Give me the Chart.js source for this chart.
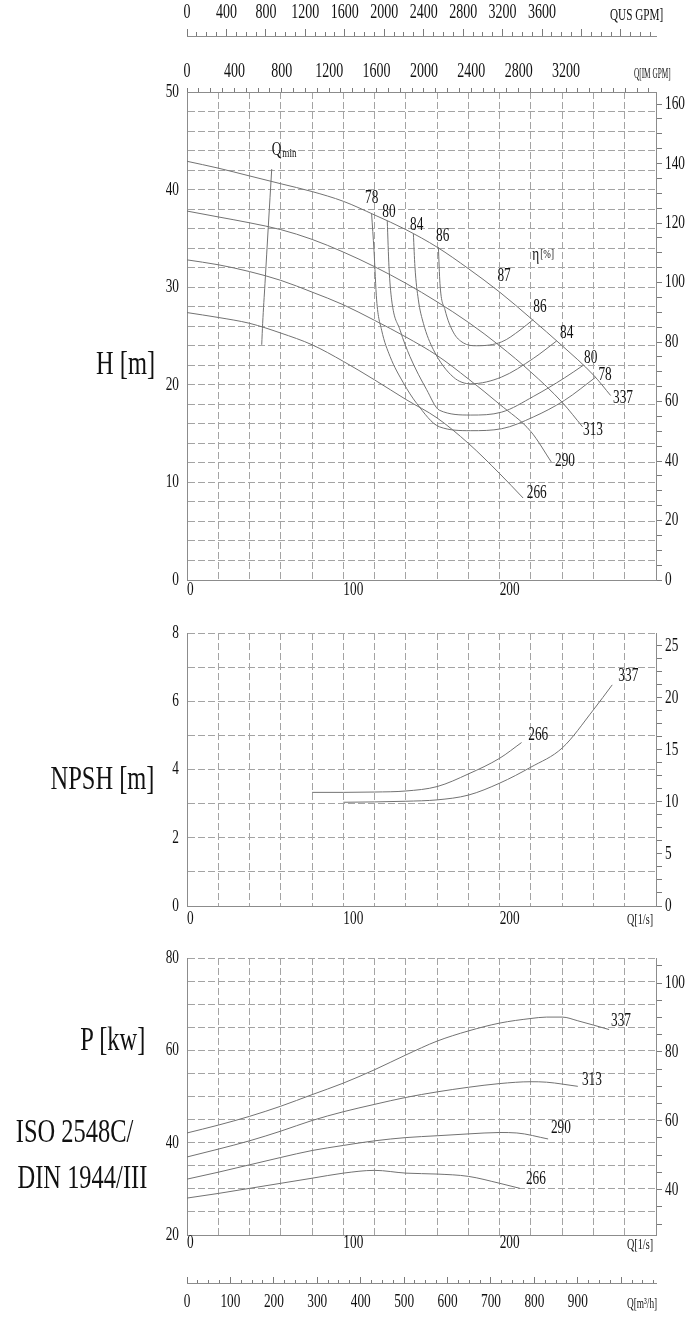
<!DOCTYPE html>
<html>
<head>
<meta charset="utf-8">
<script src="https://cdn.jsdelivr.net/npm/chart.js@4/dist/chart.umd.min.js"></script>
<style>
html, body { margin: 0; padding: 0; background: #fff; }
#page { position: relative; width: 696px; height: 1321px; overflow: hidden; font-family: "Liberation Serif", serif; color: #111; }
canvas { position: absolute; left: 0; }
.t { position: absolute; white-space: nowrap; }
.big { font-size: 34px; line-height: 34px; transform-origin: 100% 50%; transform: scaleX(0.72); }
.unit { font-size: 15px; line-height: 15px; transform-origin: 0 50%; transform: scaleX(0.68); }
</style>
</head>
<body>
<div id="page">
  <canvas id="chartH" width="696" height="606" style="top:0px"></canvas>
  <canvas id="chartN" width="696" height="320" style="top:610px"></canvas>
  <canvas id="chartP" width="696" height="386" style="top:935px"></canvas>

  <div class="t big" style="right:541px; top:346px">H [m]</div>
  <div class="t big" style="right:541px; top:761px">NPSH [m]</div>
  <div class="t big" style="right:551px; top:1022px">P [kw]</div>
  <div class="t big" style="right:563px; top:1114px">ISO 2548C/</div>
  <div class="t big" style="right:549px; top:1160px">DIN 1944/III</div>

  <div class="t unit" style="left:610px; top:7px; font-size:16px; transform:scaleX(0.7)">QUS GPM]</div>
  <div class="t unit" style="left:634px; top:66px; font-size:14px; transform:scaleX(0.52)">Q[IM GPM]</div>
  <div class="t unit" style="left:627px; top:912px">Q[1/s]</div>
  <div class="t unit" style="left:627px; top:1237px">Q[1/s]</div>
  <div class="t unit" style="left:627px; top:1296px; transform:scaleX(0.62)">Q[m³/h]</div>
</div>

<script>
// flow Q in l/s, head H in m
var h337 = [[0,42.9],[20,42.2],[40,41.4],[60,40.6],[80,39.8],[100,38.8],[120,37.4],[140,35.9],[160,34.1],[180,31.9],[200,29.5],[220,26.8],[240,24.0],[260,21.0],[271,18.9]];
var h313 = [[0,37.8],[20,37.2],[40,36.6],[60,35.9],[80,34.9],[100,33.6],[120,32.1],[140,30.4],[160,28.5],[180,26.4],[200,24.0],[220,21.3],[240,18.2],[253,15.7]];
var h290 = [[0,32.8],[20,32.3],[40,31.6],[60,30.7],[80,29.5],[100,28.2],[120,26.6],[140,24.9],[160,23.0],[180,20.6],[200,18.0],[220,15.2],[233,12.1]];
var h266 = [[0,27.4],[20,26.9],[40,26.3],[60,25.3],[80,24.1],[100,22.4],[120,20.5],[140,18.5],[160,16.6],[180,14.0],[200,10.9],[215,8.4]];

// iso-efficiency lines and Qmin
var eta78 = [[118.1,37.5],[119.6,33.8],[121.3,28.7],[124.5,25.6],[129.9,22.9],[138.4,20.2],[146.9,18.1],[161.4,15.7],[181.5,15.3],[201.3,15.5],[221.5,16.7],[241.4,18.4],[261.6,20.8]];
var eta80 = [[128.1,36.8],[129.2,32.1],[130.9,28.7],[136.3,25.6],[142.6,22.9],[153.3,19.5],[161.4,17.4],[181.5,16.9],[201.3,17.2],[221.5,18.8],[241.4,20.7],[253.5,22.0]];
var eta84 = [[144.8,35.5],[145.8,32.1],[148,28.7],[151.2,26.3],[157.6,23.6],[170.3,20.8],[181.5,20.1],[201.3,20.8],[221.5,22.7],[236.5,24.5]];
var eta86 = [[160.8,34.1],[161.8,30.4],[165,27.7],[170.3,25.4],[176.7,24.3],[185.3,24.0],[201.3,24.4],[213,25.6],[221.5,26.7]];
var qmin = [[47.8,24.1],[48.4,26.3],[49.9,30.4],[52.0,36.2],[54.2,42.1]];

// NPSH in m
var npsh266 = [[80,3.33],[100,3.33],[120,3.34],[140,3.37],[160,3.50],[180,3.87],[200,4.33],[214,4.79]];
var npsh337 = [[100,3.04],[120,3.05],[140,3.07],[160,3.11],[180,3.25],[200,3.60],[220,4.07],[240,4.63],[260,5.75],[272,6.48]];

// shaft power in kW
var p337 = [[0,42.1],[20,43.8],[40,45.7],[60,47.9],[80,50.4],[100,52.9],[120,55.8],[140,59.0],[160,62.0],[180,64.2],[200,65.9],[220,66.9],[230,67.2],[240,67.2],[250,66.4],[270,64.5]];
var p313 = [[0,36.9],[20,38.6],[40,40.4],[60,42.5],[80,44.8],[100,46.7],[120,48.3],[140,49.8],[160,51.0],[180,52.0],[200,52.8],[220,53.2],[230,53.1],[250,52.2]];
var p290 = [[0,32.1],[20,33.6],[40,35.2],[60,36.8],[80,38.3],[100,39.4],[120,40.4],[140,41.1],[160,41.5],[180,41.9],[200,42.2],[211,42.1],[231,40.8]];
var p266 = [[0,28.0],[20,29.0],[40,30.1],[60,31.2],[80,32.3],[100,33.4],[120,34.0],[140,33.4],[160,33.2],[180,32.7],[200,31.2],[213,30.1]];

// axis ranges and tick labels
var qMax = 300;
var qLabels = [0, 100, 200];
var usGpmMax = 3600, imGpmMax = 3200, m3hMax = 900;
var US_GPM = 15.8503, IM_GPM = 13.1982, M3H = 3.6, FT = 3.28084, HP = 1.34102;

// curve captions (text, Q, value)
var hNotes = [
  {t:'Q', sub:'min', dy:4, x:54.2, y:44.1},
  {t:'78', x:118.1, y:39.1}, {t:'80', x:129.2, y:37.7}, {t:'84', x:146.9, y:36.4}, {t:'86', x:163.6, y:35.2},
  {t:'\u03b7', sub:'[%]', dy:0, x:220.9, y:33.3},
  {t:'87', x:202.8, y:31.1}, {t:'86', x:225.8, y:28.0}, {t:'84', x:242.9, y:25.3},
  {t:'80', x:258.2, y:22.7}, {t:'78', x:267.4, y:21.0},
  {t:'337', x:278.9, y:18.6}, {t:'313', x:259.7, y:15.4}, {t:'290', x:241.8, y:12.2}, {t:'266', x:223.7, y:8.9}
];
var nNotes = [{t:'337', x:282.3, y:6.74}, {t:'266', x:224.7, y:5.01}];
var pNotes = [{t:'337', x:277.6, y:66.3}, {t:'313', x:259, y:53.6}, {t:'290', x:239.2, y:43.2}, {t:'266', x:223.2, y:32.1}];

var GRID = '#a4a4a4', EDGE = '#8c8c8c', TICK = '#7a7a7a', LINE = '#727272', INK = '#111';
var SX = 0.7;

function pts(arr) {
  return arr.map(function(p) { return {x: p[0], y: p[1]}; });
}

function curve(arr, yId) {
  return {
    data: pts(arr), xAxisID: 'x', yAxisID: yId || 'y',
    borderColor: LINE, borderWidth: 1, pointRadius: 0, fill: false,
    cubicInterpolationMode: 'monotone'
  };
}

function axis(o) {
  return {
    type: 'linear', axis: o.axis, position: o.pos, min: o.min, max: o.max,
    ticks: {display: false, autoSkip: false},
    grid: {
      display: true, drawOnChartArea: !!o.grid, drawTicks: !!o.tick, tickLength: o.tick || 0,
      color: GRID, tickColor: TICK, lineWidth: 1
    },
    border: {display: o.border !== false, color: EDGE, width: 1, dash: [7, 3]},
    // plain multiples of the step, from min to max
    afterBuildTicks: function(s) {
      var list = [];
      for (var k = Math.ceil(o.min / o.step - 1e-9); k * o.step <= o.max + 1e-9; k++) {
        list.push({value: k * o.step});
      }
      s.ticks = list;
    },
    afterFit: function(s) {
      if (o.w !== undefined) s.width = o.w;
      if (o.h !== undefined) s.height = o.h;
    }
  };
}

function mult(v, m) {
  return Math.abs(v / m - Math.round(v / m)) < 1e-6;
}

function cond(ctx, txt, x, y, align, size) {
  ctx.save();
  ctx.font = size + 'px "Liberation Serif", serif';
  ctx.fillStyle = INK;
  ctx.textAlign = align;
  ctx.textBaseline = 'middle';
  ctx.translate(x, y);
  ctx.scale(SX, 1);
  ctx.fillText(txt, 0, 0);
  var w = ctx.measureText(txt).width * SX;
  ctx.restore();
  return w;
}

function drawTicks(chart, id, s) {
  var sc = chart.scales[id];
  sc.ticks.forEach(function(t) {
    var txt = s.fmt(t.value);
    if (txt === '') return;
    var p = sc.getPixelForValue(t.value);
    if (s.side === 'left') cond(chart.ctx, txt, sc.right - s.off, p, 'right', 19);
    else if (s.side === 'right') cond(chart.ctx, txt, sc.left + s.off, p, 'left', 19);
    else if (s.side === 'top') cond(chart.ctx, txt, p, sc.bottom - s.off, s.align || 'center', s.size || 19);
    else cond(chart.ctx, txt, p, sc.top + s.off, s.align || 'center', 19);
  });
}

function textPlugin(spec, notes) {
  return {
    id: 'serifText',
    afterDraw: function(chart) {
      Object.keys(spec).forEach(function(id) { drawTicks(chart, id, spec[id]); });
      notes.forEach(function(n) {
        var px = chart.scales.x.getPixelForValue(n.x);
        var py = chart.scales.y.getPixelForValue(n.y);
        if (!n.sub) { cond(chart.ctx, n.t, px, py, 'center', 19); return; }
        var w = cond(chart.ctx, n.t, px, py, 'left', 19);
        cond(chart.ctx, n.sub, px + w + 1, py + n.dy, 'left', 13);
      });
    }
  };
}

var qFmt = function(v) { return qLabels.indexOf(Math.round(v)) >= 0 ? String(Math.round(v)) : ''; };

var baseOpts = function(scales, padTop) {
  return {
    responsive: false, animation: false,
    layout: {padding: {top: padTop, left: 0, right: 0, bottom: 0}},
    plugins: {legend: {display: false}, tooltip: {enabled: false}, title: {display: false}},
    scales: scales
  };
};

var configH = {
  type: 'line',
  data: {datasets: [curve(h337), curve(h313), curve(h290), curve(h266),
    curve(eta78), curve(eta80), curve(eta84), curve(eta86), curve(qmin)]},
  options: baseOpts({
    x: axis({axis: 'x', pos: 'bottom', min: 0, max: qMax, step: 20, grid: true, h: 26}),
    im: axis({axis: 'x', pos: 'top', min: 0, max: qMax * IM_GPM, step: 100, tick: 4, h: 56}),
    usMinor: axis({axis: 'x', pos: 'top', min: 0, max: qMax * US_GPM, step: 100, tick: 4, h: 0, border: false}),
    us: axis({axis: 'x', pos: 'top', min: 0, max: qMax * US_GPM, step: 400, tick: 7, h: 36}),
    y: axis({axis: 'y', pos: 'left', min: 0, max: 50, step: 2, grid: true, w: 187}),
    ft: axis({axis: 'y', pos: 'right', min: 0, max: 50 * FT, step: 5, tick: 6, w: 40})
  }, 0),
  plugins: [textPlugin({
    x: {side: 'bottom', off: 10, align: 'left', fmt: qFmt},
    y: {side: 'left', off: 8, fmt: function(v) { return mult(v, 10) ? String(Math.round(v)) : ''; }},
    ft: {side: 'right', off: 9, fmt: function(v) { return mult(v, 20) ? String(Math.round(v)) : ''; }},
    im: {side: 'top', off: 20, size: 20, fmt: function(v) { return mult(v, 400) && v <= imGpmMax ? String(Math.round(v)) : ''; }},
    us: {side: 'top', off: 23, size: 20, fmt: function(v) { return v <= usGpmMax ? String(Math.round(v)) : ''; }}
  }, hNotes)]
};

var configN = {
  type: 'line',
  data: {datasets: [curve(npsh266), curve(npsh337)]},
  options: baseOpts({
    x: axis({axis: 'x', pos: 'bottom', min: 0, max: qMax, step: 20, grid: true, h: 24}),
    y: axis({axis: 'y', pos: 'left', min: 0, max: 8, step: 1, grid: true, w: 187}),
    ft: axis({axis: 'y', pos: 'right', min: 0, max: 8 * FT, step: 1.25, tick: 6, w: 40})
  }, 23),
  plugins: [textPlugin({
    x: {side: 'bottom', off: 13, align: 'left', fmt: qFmt},
    y: {side: 'left', off: 8, fmt: function(v) { return mult(v, 2) ? String(Math.round(v)) : ''; }},
    ft: {side: 'right', off: 9, fmt: function(v) { return mult(v, 5) ? String(Math.round(v)) : ''; }}
  }, nNotes)]
};

var configP = {
  type: 'line',
  data: {datasets: [curve(p337), curve(p313), curve(p290), curve(p266)]},
  options: baseOpts({
    x: axis({axis: 'x', pos: 'bottom', min: 0, max: qMax, step: 20, grid: true, h: 48}),
    m3minor: axis({axis: 'x', pos: 'bottom', min: 0, max: qMax * M3H, step: 25, tick: -3, h: 0, border: false}),
    m3: axis({axis: 'x', pos: 'bottom', min: 0, max: qMax * M3H, step: 100, tick: -6, h: 38}),
    y: axis({axis: 'y', pos: 'left', min: 20, max: 80, step: 5, grid: true, w: 187}),
    hp: axis({axis: 'y', pos: 'right', min: 20 * HP, max: 80 * HP, step: 5, tick: 6, w: 40})
  }, 23),
  plugins: [textPlugin({
    x: {side: 'bottom', off: 8, align: 'left', fmt: qFmt},
    y: {side: 'left', off: 8, fmt: function(v) { return mult(v, 20) ? String(Math.round(v)) : ''; }},
    hp: {side: 'right', off: 9, fmt: function(v) { return mult(v, 20) ? String(Math.round(v)) : ''; }},
    m3: {side: 'bottom', off: 19, fmt: function(v) { return v <= m3hMax ? String(Math.round(v)) : ''; }}
  }, pNotes)]
};

window.onload = function() {
  window.chartH = new Chart(document.getElementById('chartH').getContext('2d'), configH);
  window.chartN = new Chart(document.getElementById('chartN').getContext('2d'), configN);
  window.chartP = new Chart(document.getElementById('chartP').getContext('2d'), configP);
};
</script>
</body>
</html>
